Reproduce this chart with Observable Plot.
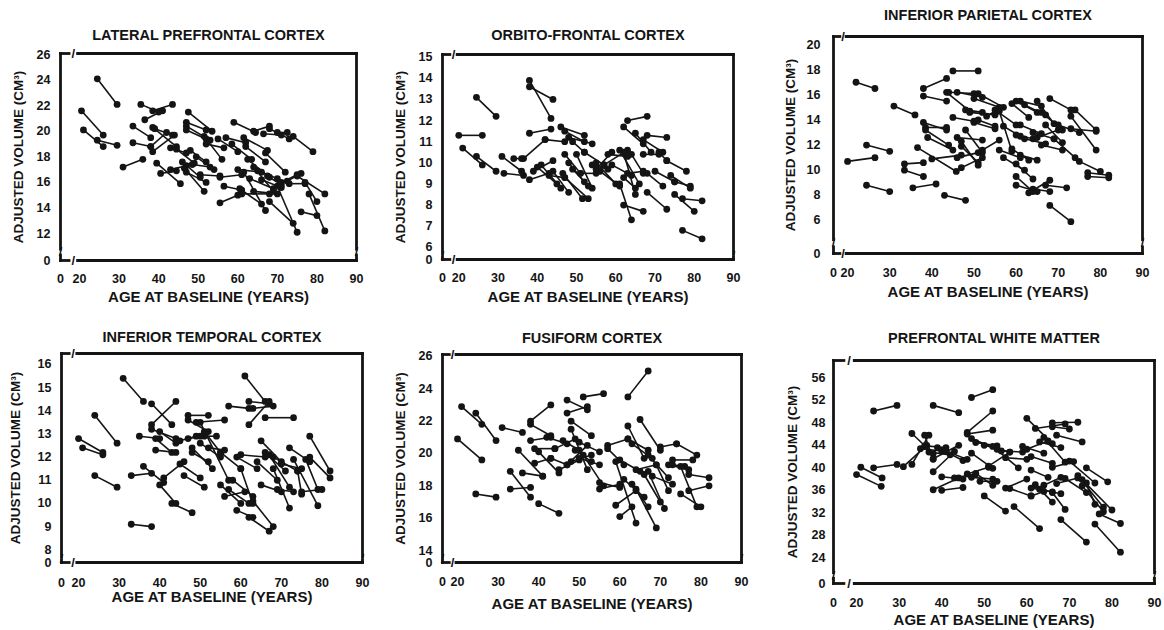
<!DOCTYPE html>
<html><head><meta charset="utf-8">
<script src="https://cdn.jsdelivr.net/npm/d3@7"></script>
<script src="https://cdn.jsdelivr.net/npm/@observablehq/plot@0.6"></script>
<style>
body{margin:0;background:#fff;}
#wrap{position:relative;width:1164px;height:630px;overflow:hidden;background:#fff;}
#wrap svg{position:absolute;overflow:visible;}
</style></head><body><div id="wrap"></div>
<script>
// ---- data: each row = [age at baseline, volume at baseline, age at follow-up, volume at follow-up]
const xTicks = [20, 30, 40, 50, 60, 70, 80, 90];
const yLabel = "ADJUSTED VOLUME (CM³)";
const xLabel = "AGE AT BASELINE (YEARS)";

const lpfcTicks = [12, 14, 16, 18, 20, 22, 24, 26];
const lateralPrefrontal = [
[24.5,24.1,29.5,22.1],[20.5,21.6,26,19.7],[21,20.1,26,18.8],[24.5,19.3,29.5,18.9],
[31,17.2,36,17.8],[33.5,20.4,38,19.5],[33.5,19.1,38,18.8],[35.5,22.1,40,21.5],
[36.5,20.9,41,21.6],[38.5,21.6,43.5,22.1],[38.5,20.3,44.5,18.8],[39,20.2,43.5,19.7],
[38.5,18.4,44,19.7],[38,18.8,42,19.9],[39.5,17.5,45.5,15.9],[40.5,16.7,44.5,16.9],
[43,17.0,47,17.3],[43,18.7,47,18.3],[44.5,18.6,49,17.5],[47.5,21.5,53.5,20.0],
[47,20.7,52,20.1],[47,20.4,53,19.3],[47,20.1,52,19.4],[48,18.5,52,17.6],
[46,17.6,50.5,16.4],[46.5,17.1,51.5,15.3],[47,16.8,52,16.0],[48.5,17.4,53,17.2],
[49.5,18.0,54,17.0],[50.5,16.6,55.5,16.5],[51.5,19.6,56,17.8],[52,19.0,56.5,18.7],
[55,19.4,60,18.4],[55.5,14.4,60,15.0],[55.5,16.4,61,16.6],[56.5,15.7,61,15.4],
[57,19.5,62,19.1],[58.5,19.0,63.5,17.8],[59,20.7,64.5,19.9],[64,20.0,68,20.4],
[66.5,19.8,71,19.7],[68,20.2,73,19.4],[70,19.9,72.5,19.9],[74,19.6,79,18.4],
[60,17.0,66,16.8],[61.5,16.8,67,13.8],[61.5,19.5,67.5,18.5],[62,18.8,67,17.6],
[62.5,17.8,68,16.4],[60.5,15.5,66,14.3],[61,15.1,68,15.1],[63,16.3,69,15.5],
[64,15.3,70,15.1],[65,16.9,70,16.3],[66,16.2,71,15.6],[67.5,16.5,71,15.8],
[67,18.3,72,16.8],[68,14.5,74,12.8],[70,15.7,75,12.1],[71,16.0,75,16.6],
[72.5,16.1,76,16.7],[73,15.9,77,15.9],[75,16.5,82,15.1],[76,13.7,80,13.4],
[77,16.0,80,14.5],[78,15.1,82,12.2],[64,17.2,69,15.3]
];

const ofcTicks = [6, 7, 8, 9, 10, 11, 12, 13, 14, 15];
const orbitoFrontal = [
[20,11.3,26,11.3],[21,10.7,26,9.9],[24.5,10.3,29.5,9.6],[24.5,13.1,29.5,12.2],
[31,10.3,36,9.6],[31.5,9.5,36.5,9.4],[34,10.2,36,10.2],[36.5,10.2,42,11.1],
[38,13.9,43.5,12.1],[38,13.6,44,13.0],[38,11.4,43.5,11.6],[38,9.2,43,9.5],
[39,9.6,44,10.1],[40,9.8,45,9.0],[41,9.9,46,8.8],[42,11.1,47,11.0],
[43,9.4,47,9.3],[44,9.6,48,8.6],[46,11.7,52,11.3],[47,11.5,52,11.0],
[47,10.4,51,9.5],[48,11.2,54,10.9],[48,10.0,52,9.1],[49,9.7,53,8.9],
[49,11.0,52,10.5],[46.5,9.5,51.5,8.3],[47,9.3,53,8.3],[50,10.4,54,8.8],
[51,9.5,55,9.5],[52,10.5,57,9.9],[54,9.9,58,9.7],[55,10.0,60,9.0],
[55,9.7,59,10.5],[56,9.6,61,8.9],[57,9.9,63,10.6],[58,10.4,63,10.3],
[59,9.9,64,9.4],[61,10.6,66,9.0],[62,11.7,67,10.9],[63,12.0,68,12.2],
[62,10.5,65,8.5],[61,9.0,64,7.3],[62,8.0,67,7.7],[62,9.3,65,8.8],
[63,9.5,67,9.6],[64,10.4,67,9.5],[65,11.4,69,10.5],[67,11.1,72,10.5],
[68,11.3,73,11.2],[67,10.4,71,10.4],[68,8.6,73,7.8],[68,9.5,72,8.9],
[70,9.6,75,9.1],[71,10.5,73,10.1],[73,10.1,78,9.6],[75,9.1,79,8.9],
[75,8.5,80,7.7],[77,8.3,82,8.2],[77,6.8,82,6.4],[74,9.4,79,8.8]
];

const ipcTicks = [6, 8, 10, 12, 14, 16, 18, 20];
const inferiorParietal = [
[22,17.0,26.5,16.5],[20,10.7,26.5,11.0],[24.5,12.0,30,11.5],[24.5,8.8,30,8.3],
[31,15.1,36,14.4],[33.5,10.5,38,10.6],[33.5,10.0,38,9.5],[35.5,8.6,41,8.9],
[36.6,11.8,45.8,9.9],[38,16.5,43.5,17.3],[38,15.9,43.5,15.5],[38,13.8,43.5,13.2],
[38.5,13.4,43.5,13.4],[38.5,13.2,44,12.0],[39,12.6,45,11.6],[40,10.9,47,11.2],
[43,8.0,48,7.6],[43.5,16.2,49,14.7],[44,16.2,50,16.1],[45,17.9,51,17.9],
[45,14.2,50,13.9],[46,16.2,52,15.8],[46,12.6,52,12.4],[46,11.0,51,11.4],
[47,11.9,51,10.6],[47,10.2,52,11.0],[48,14.8,52,14.6],[48,13.2,52,11.4],
[49,14.6,55,14.4],[50,13.8,55,13.3],[50,15.7,56,15.0],[47,12.3,51,10.4],
[51,16.1,57,15.0],[51,14.0,55,13.5],[52,11.6,56,12.4],[53,14.3,56,14.9],
[55,14.8,60,13.6],[56,14.7,59,11.5],[56,11.6,61,11.0],[57,11.0,62,10.0],
[57,13.5,61,12.7],[59,11.7,63,10.8],[60,10.5,64,9.3],[59,15.3,63,14.2],
[60,15.5,65,14.6],[61,15.5,66,15.1],[60,12.8,64,12.5],[61,13.6,66,12.9],
[60,9.5,64,8.3],[60,8.8,65,8.3],[61,11.2,65,10.8],[62,12.5,67,12.1],
[62,15.2,67,14.4],[63,8.2,68,9.2],[64,8.5,68,8.3],[64,13.0,69,12.5],
[65,15.5,69,13.7],[65,12.6,70,13.2],[66,14.6,71,13.2],[66,12.0,71,11.6],
[67,8.8,72,8.6],[67,13.6,71,12.2],[68,7.2,73,5.9],[68,15.7,73,14.8],
[69,12.5,74,11.0],[70,13.6,75,13.0],[73,14.3,79,11.6],[74,14.8,79,13.2],
[73,13.3,79,13.1],[75,10.7,80,9.9],[77,9.8,82,9.6],[77,9.5,82,9.4]
];

const itcTicks = [8, 9, 10, 11, 12, 13, 14, 15, 16];
const inferiorTemporal = [
[20,12.8,26,12.2],[21,12.4,26,12.1],[24,13.8,29.5,12.6],[24,11.2,29.5,10.7],
[31,15.4,36,14.4],[33,11.2,38,11.3],[33,9.1,38,9.0],[35,12.9,40,12.8],
[36,11.6,41,10.9],[38,14.3,43,13.4],[38,13.4,44,14.4],[38,13.2,44,12.8],
[39,12.8,43,12.2],[39,12.3,44,12.2],[40,13.1,44,12.6],[40,10.8,44,10.0],
[41,11.1,46,11.8],[43,10.0,48,9.6],[45,12.7,49,12.9],[45,11.7,50,11.1],
[46,11.2,51,10.7],[47,13.8,52,13.8],[47,12.8,51,12.9],[47,13.6,52,13.1],
[48,12.4,53,11.5],[48,12.2,52,11.8],[49,13.5,56,13.6],[50,12.9,54,12.9],
[50,12.6,55,12.0],[51,13.1,55,12.2],[52,12.4,56,12.3],[50,13.5,57,11.0],
[55,12.2,60,11.5],[55,10.8,60,10.0],[56,10.3,61,10.5],[57,14.2,62,14.1],
[57,10.6,62,10.0],[58,11.0,63,10.3],[59,9.7,63,9.4],[59,12.0,64,11.5],
[60,11.5,63,10.0],[60,12.1,66,12.0],[61,15.5,66,14.4],[62,14.4,67,14.3],
[62,13.4,67,14.4],[63,14.1,68,14.2],[66,13.7,73,13.7],[62,9.4,67,8.8],
[63,10.1,68,9.0],[64,11.8,69,11.0],[65,12.7,70,11.8],[65,10.8,70,10.5],
[66,12.2,71,11.4],[67,12.1,72,10.7],[68,11.5,72,9.8],[68,12.0,74,11.4],
[69,10.6,73,10.5],[70,11.7,75,11.5],[72,12.4,77,11.8],[73,11.9,79,9.9],
[74,11.4,75,10.4],[75,10.5,80,10.6],[77,12.9,82,11.4],[77,12.0,82,11.1],
[76,11.9,79,10.6]
];

const fusTicks = [14, 16, 18, 20, 22, 24, 26];
const fusiform = [
[21,22.9,26,21.8],[20,20.9,26,19.6],[24.5,22.5,29.5,20.8],[24.5,17.5,29.5,17.3],
[31,21.6,36,21.3],[33,18.9,38,17.3],[33,17.8,38,17.9],[35,20.2,41,18.6],
[36,18.8,41,18.6],[38,21.8,43,21.1],[38,20.8,43,21.0],[39,20.3,44,20.3],
[38,22.0,43,23.0],[39,19.4,43,19.7],[40,16.9,45,16.3],[40,20.1,45,18.8],
[42,21.0,47,20.6],[43,19.7,47,19.3],[44,20.3,49,20.9],[45,19.0,50,19.6],
[46,20.8,50,20.2],[47,23.3,52,22.7],[47,22.5,52,22.9],[48,22.0,53,21.1],
[48,21.5,52,19.0],[47,19.3,52,20.5],[48,19.5,53,19.9],[49,20.2,53,19.5],
[50,19.7,55,19.3],[50,20.7,55,20.1],[51,23.5,56,23.7],[51,19.9,56,18.0],
[55,18.2,60,17.9],[55,17.8,60,18.1],[57,20.5,62,20.9],[57,20.3,61,19.3],
[59,19.5,64,15.7],[59,16.8,64,17.7],[60,16.1,63,16.7],[60,19.6,65,18.9],
[61,18.4,66,17.3],[62,23.5,67,25.1],[62,21.7,66,19.7],[62,20.9,67,20.2],
[63,20.6,68,19.7],[63,18.1,67,16.7],[64,17.8,69,15.4],[64,19.0,69,19.3],
[65,22.1,70,20.2],[66,18.7,70,17.0],[67,18.9,71,16.6],[67,19.9,72,18.5],
[68,18.6,73,18.1],[69,19.3,72,17.7],[70,20.4,74,20.6],[72,19.3,77,19.0],
[73,19.6,78,19.6],[74,20.6,79,19.9],[75,19.2,79,16.7],[75,17.5,80,16.7],
[77,18.7,82,18.5],[77,17.7,82,18.0],[73,19.3,76,19.2]
];

const pfwmTicks = [24, 28, 32, 36, 40, 44, 48, 52, 56];
const prefrontalWM = [
[20,38.8,25.8,36.7],[21,40.1,26,38.2],[24,50.1,29.5,51.1],[24,40.0,29.5,40.6],
[31,40.2,36.5,44.0],[33,46.1,38,42.5],[33,40.6,37,45.8],[35,43.4,40,43.0],
[36,45.8,38,41.5],[36,43.9,41,43.6],[37,42.8,42,42.3],[38,51.1,44,49.8],
[38,39.3,43,42.9],[38,36.1,44,38.2],[39,43.6,45,41.3],[40,36.0,45,36.5],
[40,38.4,45,38.0],[41,43.0,46,41.5],[43,38.2,48,38.9],[38,41.6,44,44.0],
[46,46.3,52,50.1],[46,46.0,52,46.7],[47,52.5,52,53.9],[47,45.2,53,43.3],
[47,42.6,52,39.9],[46,38.9,51,40.1],[47,38.3,52,38.0],[48,44.5,53,43.9],
[48,39.0,52,36.9],[49,37.6,53,37.6],[50,35.0,55,32.3],[50,44.0,56,42.8],
[51,40.3,56,42.8],[52,43.8,58,40.0],[54,43.0,59,42.8],[55,41.8,60,41.5],
[55,36.4,60,38.0],[56,36.3,61,35.0],[57,33.1,63,29.2],[60,48.8,66,44.3],
[59,43.8,64,42.6],[60,43.3,65,44.8],[61,42.0,66,40.8],[61,36.4,66,35.7],
[61,39.6,65,38.3],[62,47.0,69,47.8],[62,37.0,66,33.9],[61,35.0,64,35.8],
[63,44.6,68,43.6],[63,36.2,68,35.4],[64,45.4,69,41.0],[64,36.9,68,38.3],
[66,48.0,72,48.1],[66,47.3,70,46.9],[66,40.1,71,41.1],[67,45.8,73,44.6],
[67,37.2,72,38.2],[66,35.6,69,32.6],[68,30.8,74,26.8],[69,38.1,74,35.6],
[72,38.6,78,33.0],[73,36.8,78,32.2],[74,40.0,79,37.5],[73,37.9,80,32.5],
[76,30.0,82,25.0],[77,31.8,82,30.1],[74,37.3,76,33.5],[70,41.2,76,37.3]
];

// ---- layout (pixel placement of each panel and its axis break values)
const panels = [
  {title:"LATERAL PREFRONTAL CORTEX", data:lateralPrefrontal, yTicks:lpfcTicks,
   left:0, top:0, width:380, height:310, mt:53, mr:24, mb:50, ml:60,
   xZero:15.2, yZero:9.89, yTop:26.08, titleOff:18, xPad:14, xTitleOff:37, yTitleOff:42, yPad:10},
  {title:"ORBITO-FRONTAL CORTEX", data:orbitoFrontal, yTicks:ofcTicks,
   left:380, top:0, width:380, height:310, mt:54, mr:27, mb:51, ml:62,
   xZero:15.85, yZero:5.42, yTop:15.13, titleOff:19, xPad:14, xTitleOff:38, yTitleOff:42, yPad:10},
  {title:"INFERIOR PARIETAL CORTEX", data:inferiorParietal, yTicks:ipcTicks,
   left:760, top:0, width:404, height:310, mt:36, mr:22, mb:57, ml:73,
   xZero:16.66, yZero:3.37, yTop:20.64, titleOff:21, xPad:15, xTitleOff:39, yTitleOff:43, yPad:13},
  {title:"INFERIOR TEMPORAL CORTEX", data:inferiorTemporal, yTicks:itcTicks,
   left:0, top:310, width:380, height:320, mt:43, mr:18, mb:68, ml:61,
   xZero:15.8, yZero:7.45, yTop:16.47, titleOff:16, xPad:16, xTitleOff:35, yTitleOff:46, yPad:10},
  {title:"FUSIFORM CORTEX", data:fusiform, yTicks:fusTicks,
   left:380, top:310, width:380, height:320, mt:44, mr:19, mb:68, ml:62,
   xZero:16.3, yZero:13.26, yTop:26.12, titleOff:16, xPad:15, xTitleOff:42, yTitleOff:42, yPad:10},
  {title:"PREFRONTAL WHITE MATTER", data:prefrontalWM, yTicks:pfwmTicks,
   left:760, top:310, width:404, height:320, mt:50, mr:10, mb:47, ml:73,
   xZero:14.58, yZero:19.43, yTop:59.08, titleOff:22, xPad:15, xTitleOff:37, yTitleOff:41, yPad:8}
];

const ink = "#141414";
const font = "'Liberation Sans', Arial, Helvetica, sans-serif";

function panel(p) {
  const X0 = p.xZero, X1 = xTicks[xTicks.length - 1], Y0 = p.yZero, Y1 = p.yTop;
  const xa = X0 + 0.45 * (xTicks[0] - X0), xb = X0 + 0.9 * (xTicks[0] - X0);
  const ya = Y0 + 0.2 * (p.yTicks[0] - Y0), yb = Y0 + 0.42 * (p.yTicks[0] - Y0);
  const border = [
    [X0, Y1, xa, Y1], [xb, Y1, X1, Y1], [X0, Y0, xa, Y0], [xb, Y0, X1, Y0],
    [X0, Y0, X0, ya], [X0, yb, X0, Y1], [X1, Y0, X1, ya], [X1, yb, X1, Y1]
  ];
  const slashes = [
    {x: (xa + xb) / 2, y: Y1}, {x: (xa + xb) / 2, y: Y0},
    {x: X0, y: (ya + yb) / 2}, {x: X1, y: (ya + yb) / 2}
  ];
  const pts = p.data.flatMap(d => [{x: d[0], y: d[1]}, {x: d[2], y: d[3]}]);
  const svg = Plot.plot({
    width: p.width, height: p.height,
    marginTop: p.mt, marginRight: p.mr, marginBottom: p.mb, marginLeft: p.ml,
    x: {domain: [X0, X1]},
    y: {domain: [Y0, Y1]},
    style: {fontFamily: font, fontWeight: "bold", fontSize: "12.5px", color: ink, background: "transparent"},
    marks: [
      Plot.link(border, {x1: d => d[0], y1: d => d[1], x2: d => d[2], y2: d => d[3],
        stroke: ink, strokeWidth: 2.8, strokeLinecap: "square"}),
      Plot.text(slashes, {x: "x", y: "y", text: () => "/", fontSize: 13, fontWeight: "bold", fill: ink}),
      Plot.axisX({ticks: [X0, ...xTicks], tickFormat: d => d === X0 ? "0" : String(d),
        tickSize: 0, tickPadding: p.xPad, label: null, fontSize: 12.5, fontWeight: "bold"}),
      Plot.axisY({ticks: [Y0, ...p.yTicks], tickFormat: d => d === Y0 ? "0" : String(d),
        tickSize: 0, tickPadding: p.yPad, label: null, fontSize: 12.5, fontWeight: "bold"}),
      Plot.link(p.data, {x1: d => d[0], y1: d => d[1], x2: d => d[2], y2: d => d[3],
        stroke: ink, strokeWidth: 1.6}),
      Plot.dot(pts, {x: "x", y: "y", r: 3.4, fill: ink, stroke: "none"}),
      Plot.text([p.title], {text: d => d, frameAnchor: "top", dy: -p.titleOff, lineAnchor: "middle",
        fontSize: 14.5, fontWeight: "bold", fill: ink}),
      Plot.text([yLabel], {text: d => d, frameAnchor: "left", rotate: -90, dx: -p.yTitleOff,
        textAnchor: "middle", lineAnchor: "middle", fontSize: 13.5, fontWeight: "bold", fill: ink}),
      Plot.text([xLabel], {text: d => d, frameAnchor: "bottom", dy: p.xTitleOff, lineAnchor: "middle",
        fontSize: 15, fontWeight: "bold", fill: ink})
    ]
  });
  svg.style.left = p.left + "px";
  svg.style.top = p.top + "px";
  return svg;
}

const wrap = document.getElementById("wrap");
for (const p of panels) wrap.appendChild(panel(p));
</script>
</body></html>
